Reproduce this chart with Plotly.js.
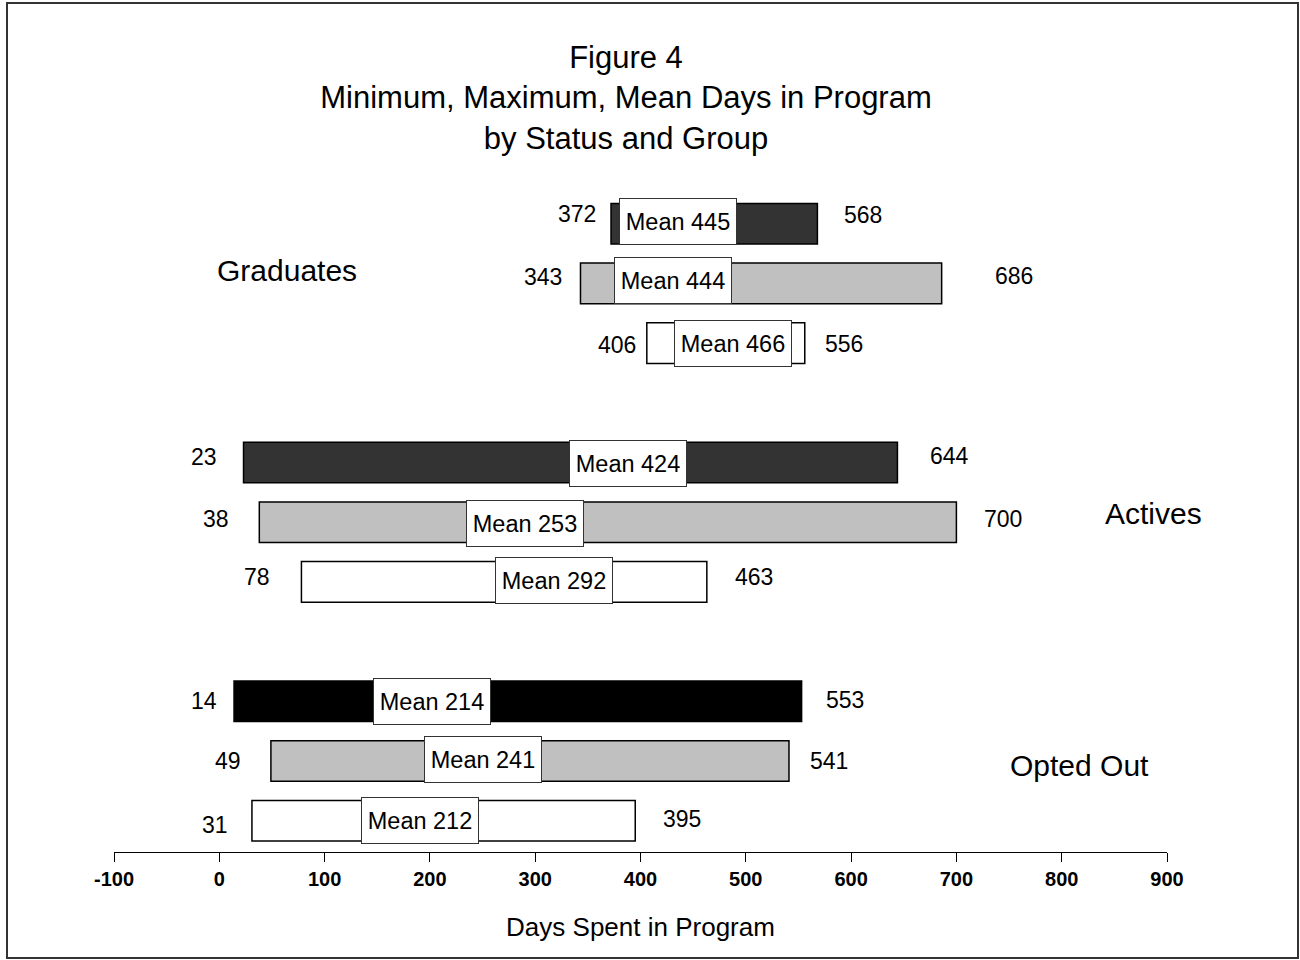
<!DOCTYPE html>
<html>
<head>
<meta charset="utf-8">
<script src="https://cdn.plot.ly/plotly-3.0.1.min.js"></script>
<style>html,body{margin:0;padding:0;background:#fff;}#chart{width:1300px;height:960px;}</style>
</head>
<body>
<div id="chart"></div>
<script>
// ---- data ----
const statuses = ['Graduates', 'Actives', 'Opted Out'];
const series1Min  = [372, 23, 14];
const series1Max  = [568, 644, 553];
const series1Mean = [445, 424, 214];
const series2Min  = [343, 38, 49];
const series2Max  = [686, 700, 541];
const series2Mean = [444, 253, 241];
const series3Min  = [406, 78, 31];
const series3Max  = [556, 463, 395];
const series3Mean = [466, 292, 212];
const xTickVals = [-100, 0, 100, 200, 300, 400, 500, 600, 700, 800, 900];

// ---- styling / label placement ----
const series1Colors = ['#333333', '#333333', '#000000'];
const series2Colors = ['#c0c0c0', '#c0c0c0', '#c0c0c0'];
const series3Colors = ['#ffffff', '#ffffff', '#ffffff'];
const meanBoxX = [[436.0, 388.1, 201.8], [431.3, 290.7, 250.5], [488.3, 317.7, 190.4]];
const meanBoxYShift = [[2, -1, 0], [3, -1, 2], [0, 1, 0]];
const minShiftX = [[-34, -40, -30], [-37, -43, -43], [-30, -44, -37]];
const minShiftY = [[10, 6, 0], [6, 3, 0], [-2, 5, -4]];
const maxShiftX = [[46, 52, 43], [72, 47, 40], [39, 47, 47]];
const maxShiftY = [[9, 7, 1], [7, 3, 0], [-1, 5, 2]];
const groupLabelX = [64.2, 887.2, 817.3];
const groupLabelY = [0.776, 4.846, 9.067];

const FONT = 'Liberation Sans, Arial, Helvetica, sans-serif';
const mins = [series1Min, series2Min, series3Min];
const maxs = [series1Max, series2Max, series3Max];
const means = [series1Mean, series2Mean, series3Mean];
const colors = [series1Colors, series2Colors, series3Colors];

const barY = [], barLen = [], barBase = [], barColor = [];
const annotations = [];
for (let g = 0; g < statuses.length; g++) {
  for (let s = 0; s < 3; s++) {
    const y = g * 4 + s;
    const mn = mins[s][g], mx = maxs[s][g], me = means[s][g];
    barY.push(y); barBase.push(mn); barLen.push(mx - mn); barColor.push(colors[s][g]);
    annotations.push({x: mn, y: y, xref: 'x', yref: 'y', text: String(mn), showarrow: false,
      xanchor: 'center', yanchor: 'middle', xshift: minShiftX[s][g], yshift: minShiftY[s][g],
      font: {family: FONT, size: 23, color: '#000'}});
    annotations.push({x: mx, y: y, xref: 'x', yref: 'y', text: String(mx), showarrow: false,
      xanchor: 'center', yanchor: 'middle', xshift: maxShiftX[s][g], yshift: maxShiftY[s][g],
      font: {family: FONT, size: 23, color: '#000'}});
    annotations.push({x: meanBoxX[s][g], y: y, xref: 'x', yref: 'y', text: 'Mean ' + me, showarrow: false,
      xanchor: 'center', yanchor: 'middle', yshift: meanBoxYShift[s][g],
      width: 114, height: 43, bgcolor: '#ffffff', bordercolor: '#333333', borderwidth: 1, borderpad: 1,
      font: {family: FONT, size: 23.5, color: '#000'}});
  }
  annotations.push({x: groupLabelX[g], y: groupLabelY[g], xref: 'x', yref: 'y', text: statuses[g],
    showarrow: false, xanchor: 'center', yanchor: 'middle',
    font: {family: FONT, size: 30, color: '#000'}});
}

const W = 1300, H = 960;
const M = {l: 114, r: 133, t: 180, b: 108};
const pw = W - M.l - M.r, ph = H - M.t - M.b;
const bx0 = (7 - M.l) / pw, bx1 = (1298 - M.l) / pw;
const by1 = (H - M.b - 3) / ph, by0 = (H - M.b - 958) / ph;

const trace = {
  type: 'bar', orientation: 'h', y: barY, x: barLen, base: barBase, width: 0.68,
  marker: {color: barColor, line: {color: '#000000', width: 1.5}},
  hoverinfo: 'skip', showlegend: false
};

const layout = {
  width: W, height: H, margin: M,
  paper_bgcolor: '#ffffff', plot_bgcolor: '#ffffff',
  showlegend: false, hovermode: false,
  title: {text: 'Figure 4<br>Minimum, Maximum, Mean Days in Program<br>by Status and Group',
    x: 626 / W, xref: 'container', xanchor: 'center', y: 1 - 68 / H, yref: 'container', yanchor: 'top',
    font: {family: FONT, size: 31, color: '#000'}},
  xaxis: {range: [-100, 900], tickvals: xTickVals, ticktext: xTickVals.map(String),
    showgrid: false, zeroline: false, showline: true, linecolor: '#000', linewidth: 1,
    ticks: 'outside', ticklen: 9, tickwidth: 1, tickcolor: '#000',
    tickfont: {family: FONT, size: 20, color: '#000', weight: 'bold'},
    title: {text: 'Days Spent in Program', standoff: 28, font: {family: FONT, size: 26, color: '#000'}},
    fixedrange: true},
  yaxis: {range: [10.524, -0.732], showgrid: false, zeroline: false, showline: false,
    showticklabels: false, ticks: '', fixedrange: true},
  annotations: annotations,
  shapes: [{type: 'rect', xref: 'paper', yref: 'paper', x0: bx0, x1: bx1, y0: by0, y1: by1,
    line: {color: '#333333', width: 2}, fillcolor: 'rgba(0,0,0,0)', layer: 'below'}]
};

Plotly.newPlot('chart', [trace], layout, {displayModeBar: false, staticPlot: true});
</script>
</body>
</html>
